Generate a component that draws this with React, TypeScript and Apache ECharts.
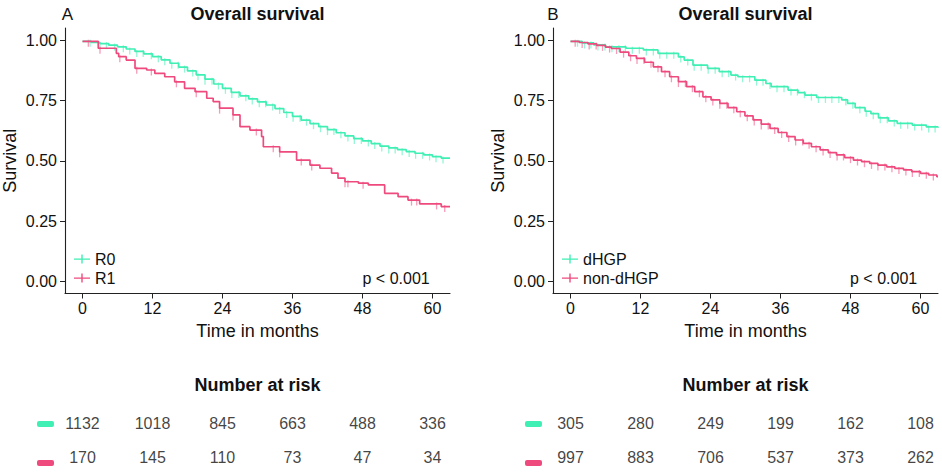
import React, { useEffect, useRef } from "react";
import * as echarts from "echarts";

const FONT = '"Liberation Sans", Arial, Helvetica, sans-serif';
const TEAL = "#3FEFB4";
const PINK = "#EF4A7E";

const X_TICKS = [0, 12, 24, 36, 48, 60];
const Y_TICKS = [0, 0.25, 0.5, 0.75, 1];

// Panel A: R0 / R1
const A_R0_T = [0, 1.5, 3, 4.5, 6, 7.5, 9, 10.5, 12, 13.5, 15, 16.5, 18, 19.5, 21, 22.5, 24, 25.5, 27, 28.5, 30, 31.5, 33, 34.5, 36, 37.5, 39, 40.5, 42, 43.5, 45, 46.5, 48, 49.5, 51, 52.5, 54, 55.5, 57, 58.5, 60, 61.5, 63];
const A_R0_S = [0.995, 0.99, 0.985, 0.979, 0.972, 0.963, 0.953, 0.943, 0.931, 0.918, 0.904, 0.888, 0.872, 0.856, 0.838, 0.818, 0.8, 0.783, 0.769, 0.756, 0.744, 0.731, 0.716, 0.7, 0.684, 0.668, 0.654, 0.641, 0.629, 0.616, 0.603, 0.592, 0.582, 0.571, 0.561, 0.553, 0.546, 0.538, 0.531, 0.524, 0.517, 0.511, 0.511];
const A_R0_CENS = [1.3, 3.0, 4.1, 5.5, 7.0, 8.1, 9.3, 10.4, 11.8, 13.0, 14.1, 15.3, 16.4, 17.5, 18.9, 19.8, 21.0, 22.2, 23.3, 24.5, 25.6, 26.8, 28.0, 29.1, 30.3, 31.4, 32.6, 33.8, 35.0, 36.1, 37.3, 38.4, 39.6, 40.8, 42.0, 43.1, 44.3, 45.5, 46.6, 47.8, 49.0, 50.1, 51.3, 52.5, 53.6, 54.8, 56.0, 57.1, 58.3, 59.5, 60.6, 61.8];

const A_R1_T = [0, 2.7, 5.8, 6.2, 7.5, 9, 11, 12.4, 14.1, 15.8, 17.5, 19.3, 21.3, 22.4, 23.5, 25.8, 27, 28.7, 30.7, 31, 33.8, 36.7, 39, 40.7, 42.7, 43.8, 45, 47.3, 49, 51.8, 54.1, 55.8, 57.8, 61.5, 63];
const A_R1_S = [0.995, 0.966, 0.945, 0.931, 0.917, 0.883, 0.876, 0.862, 0.848, 0.827, 0.8, 0.786, 0.759, 0.745, 0.718, 0.69, 0.641, 0.627, 0.6, 0.558, 0.537, 0.503, 0.482, 0.469, 0.449, 0.428, 0.413, 0.407, 0.4, 0.365, 0.351, 0.337, 0.321, 0.31, 0.31];
const A_R1_CENS = [1.0, 3.0, 6.4, 9.3, 11.8, 16.1, 19.5, 23.5, 25.8, 29.8, 32.7, 33.8, 37.5, 39.3, 45.0, 45.5, 48.1, 56.4, 57.3, 60.7, 62.1];

// Panel B: dHGP / non-dHGP
const B_D_T = [0, 2, 4, 6, 9.5, 12.5, 15, 18.5, 19.5, 21, 23.5, 25.5, 27.5, 28.7, 31.6, 33.5, 34.4, 37.3, 39, 40.2, 42.2, 46.5, 47.5, 48.8, 50.5, 51.5, 52.8, 54.5, 56, 58.6, 61, 63];
const B_D_S = [0.995, 0.988, 0.98, 0.972, 0.966, 0.959, 0.945, 0.93, 0.917, 0.896, 0.883, 0.869, 0.855, 0.848, 0.834, 0.82, 0.807, 0.793, 0.782, 0.772, 0.762, 0.752, 0.738, 0.72, 0.705, 0.695, 0.678, 0.665, 0.655, 0.648, 0.64, 0.637];
const B_D_CENS = [1.2, 2.4, 3.5, 4.7, 5.9, 7.1, 8.3, 9.4, 10.6, 11.8, 13.0, 14.2, 15.3, 16.5, 17.7, 18.9, 20.1, 21.2, 22.4, 23.6, 24.8, 26.0, 27.1, 28.3, 29.5, 30.7, 31.9, 33.0, 34.2, 35.4, 36.6, 37.8, 38.9, 40.1, 41.3, 42.5, 43.7, 44.8, 46.0, 47.2, 48.4, 49.6, 50.7, 51.9, 53.1, 54.3, 55.5, 56.6, 57.8, 59.0, 60.2, 61.4, 62.5];

const B_N_T = [0, 1.5, 3, 4.5, 6, 7, 8.5, 10, 11.3, 12.7, 14.2, 15.6, 17, 18.5, 19.9, 21.3, 22.7, 24.1, 25.6, 27, 28.5, 29.9, 31.3, 32.7, 34.2, 35.6, 37.1, 38.5, 39.9, 41.3, 42.8, 44.2, 45.6, 47, 48.5, 49.9, 51.3, 52.7, 54.2, 55.6, 57.1, 58.5, 60, 61.4, 62.8, 63];
const B_N_S = [0.995, 0.99, 0.984, 0.978, 0.971, 0.965, 0.95, 0.935, 0.924, 0.908, 0.889, 0.869, 0.848, 0.828, 0.807, 0.786, 0.765, 0.752, 0.738, 0.72, 0.703, 0.686, 0.669, 0.652, 0.634, 0.617, 0.6, 0.586, 0.572, 0.558, 0.545, 0.534, 0.524, 0.513, 0.503, 0.496, 0.489, 0.482, 0.475, 0.468, 0.462, 0.455, 0.448, 0.441, 0.434, 0.434];
const B_N_CENS = [0.8, 2.0, 3.2, 4.4, 5.5, 6.7, 7.9, 9.1, 10.3, 11.4, 12.6, 13.8, 15.0, 16.2, 17.3, 18.5, 19.7, 20.9, 22.1, 23.2, 24.4, 25.6, 26.8, 28.0, 29.1, 30.3, 31.5, 32.7, 33.9, 35.0, 36.2, 37.4, 38.6, 39.8, 40.9, 42.1, 43.3, 44.5, 45.7, 46.8, 48.0, 49.2, 50.4, 51.6, 52.7, 53.9, 55.1, 56.3, 57.5, 58.6, 59.8, 61.0, 62.2];

// Number at risk
const RISK_A_R0 = [1132, 1018, 845, 663, 488, 336];
const RISK_A_R1 = [170, 145, 110, 73, 47, 34];
const RISK_B_D = [305, 280, 249, 199, 162, 108];
const RISK_B_N = [997, 883, 706, 537, 373, 262];

function survAt(times: number[], surv: number[], t: number) {
  let v = surv[0];
  for (let i = 0; i < times.length; i++) {
    if (times[i] <= t) v = surv[i];
  }
  return v;
}

const LEGEND_ICON = "path://M0,4.4h16v1.4h-16z M7.3,0.5h1.4v9h-1.4z";

export default function App() {
  const ref = useRef<HTMLDivElement>(null);
  useEffect(() => {
    document.body.style.margin = "0";
    if (!ref.current) return;
    const chart = echarts.init(ref.current, null, { renderer: "svg" });

    const km = (name: string, T: number[], S: number[], color: string, idx: number) => ({
      type: "line",
      name,
      xAxisIndex: idx,
      yAxisIndex: idx,
      step: "end",
      symbol: "none",
      showSymbol: false,
      data: T.map((t, i) => [t, S[i]]),
      lineStyle: { color, width: 1.7 },
      itemStyle: { color },
      z: 3,
    });
    const cens = (name: string, T: number[], S: number[], C: number[], color: string, idx: number) => ({
      type: "scatter",
      name: name + " censored",
      xAxisIndex: idx,
      yAxisIndex: idx,
      symbol: "rect",
      symbolSize: [1.3, 7],
      symbolOffset: [0, 2],
      data: C.map((t) => [t, survAt(T, S, t)]),
      itemStyle: { color, opacity: 0.55 },
      silent: true,
      z: 2,
    });
    const risk = (vals: number[], row: string, idx: number) => ({
      type: "scatter",
      xAxisIndex: idx,
      yAxisIndex: idx,
      symbolSize: 0.1,
      itemStyle: { color: "rgba(0,0,0,0)" },
      data: vals.map((v, i) => [X_TICKS[i], row, v]),
      label: {
        show: true,
        position: "inside",
        formatter: (p: any) => String(p.value[2]),
        fontSize: 16,
        color: "#111",
        fontFamily: FONT,
      },
      silent: true,
    });

    const plotX = (gridIndex: number) => ({
      type: "value",
      gridIndex,
      min: -3,
      max: 63,
      axisLine: { show: true, onZero: false, lineStyle: { color: "#222", width: 1.1 } },
      axisTick: { show: true, customValues: X_TICKS, length: 5, lineStyle: { color: "#222" } },
      axisLabel: { customValues: X_TICKS, fontSize: 16, color: "#111", margin: 7, fontFamily: FONT },
      splitLine: { show: false },
      name: "Time in months",
      nameLocation: "middle",
      nameGap: 28,
      nameTextStyle: { fontSize: 18, color: "#111", fontFamily: FONT },
    });
    const plotY = (gridIndex: number) => ({
      type: "value",
      gridIndex,
      min: -0.05,
      max: 1.05,
      axisLine: { show: true, onZero: false, lineStyle: { color: "#222", width: 1.1 } },
      axisTick: { show: true, customValues: Y_TICKS, length: 5, lineStyle: { color: "#222" } },
      axisLabel: {
        customValues: Y_TICKS,
        fontSize: 16,
        color: "#111",
        margin: 8,
        fontFamily: FONT,
        formatter: (v: number) => v.toFixed(2),
      },
      splitLine: { show: false },
      name: "Survival",
      nameLocation: "middle",
      nameGap: 46,
      nameRotate: 90,
      nameTextStyle: { fontSize: 18, color: "#111", fontFamily: FONT },
    });
    const riskX = (gridIndex: number) => ({ type: "value", gridIndex, min: -3, max: 63, show: false });
    const riskY = (gridIndex: number, cats: string[]) => ({
      type: "category",
      gridIndex,
      data: cats,
      inverse: true,
      show: false,
    });

    const txt = (x: number, y: number, text: string, size: number, bold: boolean, align = "center") => ({
      type: "text",
      x,
      y,
      style: {
        text,
        fontSize: size,
        fontWeight: bold ? "bold" : "normal",
        fontFamily: FONT,
        fill: "#111",
        textAlign: align,
        textVerticalAlign: "middle",
      },
    });
    const dash = (x: number, y: number, color: string) => ({
      type: "rect",
      shape: { x, y, width: 17, height: 6, r: 2 },
      style: { fill: color },
    });

    const option: any = {
      animation: false,
      backgroundColor: "#fff",
      textStyle: { fontFamily: FONT },
      grid: [
        { left: 65, top: 28, width: 385, height: 265.5 },
        { left: 553, top: 28, width: 385, height: 265.5 },
        { left: 65, top: 406, width: 385, height: 77 },
        { left: 553, top: 406, width: 385, height: 77 },
      ],
      xAxis: [plotX(0), plotX(1), riskX(2), riskX(3)],
      yAxis: [plotY(0), plotY(1), riskY(2, ["R0", "R1"]), riskY(3, ["dHGP", "non-dHGP"])],
      legend: [
        {
          left: 74,
          top: 251,
          orient: "vertical",
          padding: 0,
          itemWidth: 16,
          itemHeight: 10,
          itemGap: 3,
          selectedMode: false,
          textStyle: { fontSize: 16, lineHeight: 16, color: "#111", fontFamily: FONT },
          data: [
            { name: "R0", icon: LEGEND_ICON },
            { name: "R1", icon: LEGEND_ICON },
          ],
        },
        {
          left: 562,
          top: 251,
          orient: "vertical",
          padding: 0,
          itemWidth: 16,
          itemHeight: 10,
          itemGap: 3,
          selectedMode: false,
          textStyle: { fontSize: 16, lineHeight: 16, color: "#111", fontFamily: FONT },
          data: [
            { name: "dHGP", icon: LEGEND_ICON },
            { name: "non-dHGP", icon: LEGEND_ICON },
          ],
        },
      ],
      series: [
        km("R0", A_R0_T, A_R0_S, TEAL, 0),
        km("R1", A_R1_T, A_R1_S, PINK, 0),
        cens("R0", A_R0_T, A_R0_S, A_R0_CENS, TEAL, 0),
        cens("R1", A_R1_T, A_R1_S, A_R1_CENS, PINK, 0),
        km("dHGP", B_D_T, B_D_S, TEAL, 1),
        km("non-dHGP", B_N_T, B_N_S, PINK, 1),
        cens("dHGP", B_D_T, B_D_S, B_D_CENS, TEAL, 1),
        cens("non-dHGP", B_N_T, B_N_S, B_N_CENS, PINK, 1),
        risk(RISK_A_R0, "R0", 2),
        risk(RISK_A_R1, "R1", 2),
        risk(RISK_B_D, "dHGP", 3),
        risk(RISK_B_N, "non-dHGP", 3),
      ],
      graphic: [
        txt(67.5, 14, "A", 17, false),
        txt(257.5, 14, "Overall survival", 18, true),
        txt(553, 14, "B", 17, false),
        txt(745.5, 14, "Overall survival", 18, true),
        txt(362.5, 278.5, "p < 0.001", 16, false, "left"),
        txt(850, 278.5, "p < 0.001", 16, false, "left"),
        txt(257.5, 385, "Number at risk", 18, true),
        txt(745.5, 385, "Number at risk", 18, true),
        dash(37, 421, TEAL),
        dash(37, 460, PINK),
        dash(525, 421, TEAL),
        dash(525, 460, PINK),
      ],
    };
    chart.setOption(option);
    return () => chart.dispose();
  }, []);
  return <div ref={ref} style={{ width: 942, height: 474 }} />;
}
